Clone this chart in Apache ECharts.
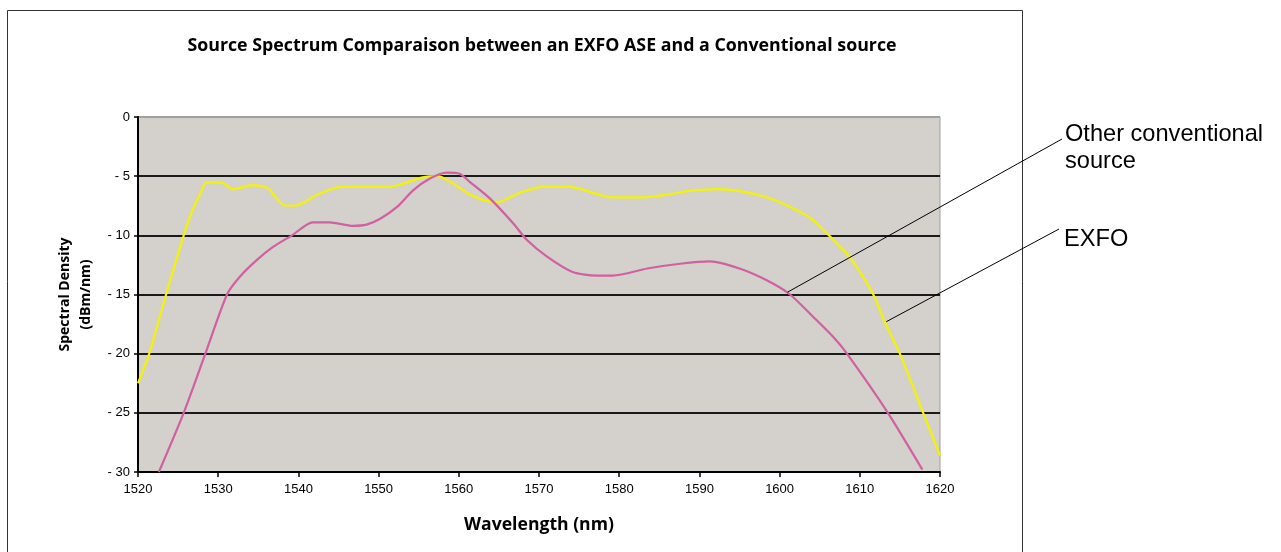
<!DOCTYPE html>
<html><head><meta charset="utf-8">
<script src="https://cdn.jsdelivr.net/npm/echarts@6/dist/echarts.min.js"></script>
<style>html,body{margin:0;padding:0;background:#fff}#c{width:1281px;height:552px}</style>
</head><body><div id="c"></div>
<script>
const titleText = 'Source Spectrum Comparaison between an EXFO ASE and a Conventional source';
const xName = 'Wavelength (nm)';
const yName = 'Spectral Density\n(dBm/nm)';
const xTicks = [1520, 1530, 1540, 1550, 1560, 1570, 1580, 1590, 1600, 1610, 1620];
const yTicks = [0, -5, -10, -15, -20, -25, -30];

const exfoWl = [1520, 1521.4, 1523.5, 1525.7, 1526.6, 1527.7, 1528.6, 1530.6, 1531.9, 1534.3, 1535.8, 1536.5, 1537.7, 1538.6, 1539.6, 1542.3, 1545.2, 1548, 1551.4, 1552.7, 1555.5, 1557.4, 1559, 1561, 1563, 1564.8, 1567.6, 1570.5, 1573.9, 1577.2, 1579.2, 1582.6, 1585.5, 1588.8, 1592.2, 1595.4, 1598, 1600.4, 1603.8, 1606.3, 1608.8, 1611.6, 1613.1, 1615, 1617.9, 1620];
const exfoDb = [-22.5, -20, -15, -10, -8.2, -6.6, -5.5, -5.6, -6.1, -5.75, -5.9, -6.2, -7.2, -7.5, -7.5, -6.6, -5.9, -5.9, -5.9, -5.7, -5.1, -5.0, -5.5, -6.4, -7.0, -7.2, -6.4, -5.9, -5.9, -6.5, -6.8, -6.8, -6.6, -6.25, -6.1, -6.3, -6.7, -7.3, -8.5, -10.1, -11.9, -14.9, -17.3, -20, -25, -28.6];

const convWl = [1522.6, 1525.7, 1528.4, 1531.1, 1532.7, 1534.8, 1536.8, 1539.2, 1541.8, 1543.9, 1546.8, 1548.5, 1550.2, 1552.3, 1554.3, 1556.4, 1558.5, 1560.1, 1561.4, 1563.9, 1566.8, 1568.5, 1571, 1574.2, 1577.2, 1579.2, 1583.5, 1587.6, 1591.3, 1595, 1598.4, 1601.3, 1604.2, 1606.7, 1608.4, 1613.5, 1617.8];
const convDb = [-30, -25, -20, -15, -13.5, -12.1, -11.0, -10.0, -8.9, -8.9, -9.2, -9.1, -8.6, -7.6, -6.2, -5.2, -4.7, -4.8, -5.5, -6.9, -9.0, -10.4, -11.8, -13.1, -13.4, -13.4, -12.8, -12.4, -12.2, -12.8, -13.8, -15.0, -16.9, -18.6, -20, -25, -29.8];

const seriesNames = ['EXFO', 'Other conventional\nsource'];
// annotation anchors (data coordinates on each curve)
const convAnchor = [1601, -14.8];
const exfoAnchor = [1613.3, -17.3];

const chart = echarts.init(document.getElementById('c'));
const pair = (xs, ys) => xs.map((x, i) => [x, ys[i]]);
const axisFont = {fontFamily: 'Liberation Sans', fontSize: 13, color: '#000'};
const boldFont = 'Open Sans';

chart.setOption({
  animation: false,
  backgroundColor: '#fff',
  title: {text: titleText, left: 537, top: 32, textAlign: 'center',
    textStyle: {fontFamily: boldFont, fontWeight: 'bold', fontSize: 17.8, color: '#000'}},
  grid: {left: 138, top: 117, width: 802, height: 355, show: true,
    backgroundColor: '#d4d0cc', borderColor: '#a0a0a0', borderWidth: 1},
  xAxis: {type: 'value', min: 1520, max: 1620, interval: 10,
    name: xName, nameLocation: 'middle', nameGap: 44,
    nameTextStyle: {fontFamily: boldFont, fontWeight: 'bold', fontSize: 17.6, color: '#000'},
    axisLine: {onZero: false, lineStyle: {color: '#000', width: 2}},
    axisTick: {show: true, length: 5, lineStyle: {color: '#000', width: 1.5}},
    axisLabel: Object.assign({margin: 11, formatter: v => String(v)}, axisFont),
    splitLine: {show: false}},
  yAxis: {type: 'value', min: -30, max: 0, interval: 5,
    name: yName, nameLocation: 'middle', nameGap: 41,
    nameTextStyle: {fontFamily: boldFont, fontWeight: 'bold', fontSize: 14, color: '#000', lineHeight: 21},
    axisLine: {show: true, onZero: false, lineStyle: {color: '#000', width: 2}},
    axisTick: {show: true, length: 4, lineStyle: {color: '#000', width: 1.5}},
    axisLabel: Object.assign({margin: 8, formatter: v => String(v).replace('-', '- ')}, axisFont),
    splitLine: {show: true, lineStyle: {color: ['#000', '#1a1a1a', '#1a1a1a', '#1a1a1a', '#1a1a1a', '#1a1a1a', '#a0a0a0'], width: 2}}},
  series: [
    {name: seriesNames[0], type: 'line', data: pair(exfoWl, exfoDb), showSymbol: false, smooth: 0.25,
      lineStyle: {color: '#f4f400', width: 2.2}, z: 3},
    {name: seriesNames[1], type: 'line', data: pair(convWl, convDb), showSymbol: false, smooth: 0.25,
      lineStyle: {color: '#d0609f', width: 2.2}, z: 4}
  ]
});

const pc = chart.convertToPixel({gridIndex: 0}, convAnchor);
const pe = chart.convertToPixel({gridIndex: 0}, exfoAnchor);
const annFont = '23.6px "Liberation Sans"';
chart.setOption({
  graphic: [
    {type: 'rect', shape: {x: 7.5, y: 10.5, width: 1015, height: 560}, style: {fill: 'none', stroke: '#333', lineWidth: 1}, silent: true, z: 0},
    {type: 'line', shape: {x1: 1062, y1: 139, x2: pc[0], y2: pc[1]}, style: {stroke: '#000', lineWidth: 1}, z: 10},
    {type: 'line', shape: {x1: 1059, y1: 229, x2: pe[0], y2: pe[1]}, style: {stroke: '#000', lineWidth: 1}, z: 10},
    {type: 'text', x: 1065, y: 121, style: {text: seriesNames[1], font: annFont, fill: '#000', verticalAlign: 'top', lineHeight: 27}, z: 10},
    {type: 'text', x: 1064, y: 226, style: {text: seriesNames[0], font: annFont, fill: '#000', verticalAlign: 'top', lineHeight: 27}, z: 10}
  ]
});
</script></body></html>
